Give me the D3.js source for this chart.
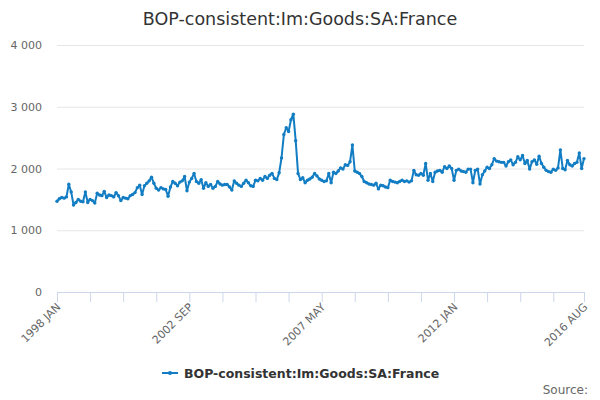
<!DOCTYPE html>
<html>
<head>
<meta charset="utf-8">
<script src="https://cdn.jsdelivr.net/npm/d3@7"></script>
<style>
  body { margin: 0; background: #fff; }
  svg { font-family: "DejaVu Sans", Verdana, sans-serif; }
</style>
</head>
<body>
<div id="chart"></div>
<script>
// monthly values, 1998 JAN .. 2016 AUG
var v1998 = [1470, 1510, 1530, 1520, 1540, 1745, 1620, 1410, 1450, 1500, 1470, 1460];
var v1999 = [1620, 1450, 1500, 1480, 1440, 1600, 1570, 1560, 1630, 1530, 1570, 1560];
var v2000 = [1540, 1610, 1560, 1480, 1530, 1520, 1510, 1560, 1580, 1610, 1690, 1730];
var v2001 = [1580, 1720, 1760, 1800, 1860, 1760, 1680, 1650, 1690, 1670, 1660, 1550];
var v2002 = [1700, 1790, 1760, 1720, 1780, 1800, 1870, 1640, 1780, 1840, 1920, 1790];
var v2003 = [1760, 1820, 1680, 1770, 1710, 1740, 1680, 1710, 1790, 1750, 1730, 1740];
var v2004 = [1740, 1700, 1650, 1800, 1760, 1730, 1710, 1760, 1810, 1770, 1720, 1710];
var v2005 = [1810, 1800, 1840, 1810, 1870, 1840, 1890, 1920, 1840, 1820, 1930, 2170];
var v2006 = [2550, 2660, 2600, 2790, 2880, 2450, 1920, 1820, 1850, 1770, 1810, 1830];
var v2007 = [1860, 1920, 1880, 1830, 1810, 1790, 1800, 1920, 1770, 1940, 1920, 1960];
var v2008 = [2010, 1990, 2060, 2050, 2110, 2380, 1960, 1940, 1920, 1870, 1790, 1770];
var v2009 = [1750, 1740, 1730, 1760, 1670, 1730, 1720, 1700, 1690, 1810, 1790, 1780];
var v2010 = [1770, 1790, 1810, 1790, 1800, 1780, 1800, 1970, 1900, 1890, 1920, 1890];
var v2011 = [2080, 1810, 1920, 1790, 1940, 1960, 1970, 1940, 2030, 2000, 2040, 2000];
var v2012 = [1810, 1970, 1990, 1960, 1950, 1940, 1990, 1990, 1770, 1970, 1990, 1750];
var v2013 = [1900, 1960, 2020, 2000, 2060, 2160, 2120, 2110, 2100, 2100, 2040, 2110];
var v2014 = [2140, 2060, 2100, 2190, 2140, 2210, 2080, 2130, 1990, 2110, 2140, 2070];
var v2015 = [2200, 2080, 2020, 1970, 1950, 1940, 1990, 1970, 2010, 2300, 2000, 1980];
var v2016 = [2130, 2060, 2040, 2080, 2100, 2250, 2000, 2160];

var months = ["JAN", "FEB", "MAR", "APR", "MAY", "JUN", "JUL", "AUG", "SEP", "OCT", "NOV", "DEC"];
var yTicks = [0, 1000, 2000, 3000, 4000];
var seriesName = "BOP-consistent:Im:Goods:SA:France";

var values = [].concat(v1998, v1999, v2000, v2001, v2002, v2003, v2004, v2005, v2006,
    v2007, v2008, v2009, v2010, v2011, v2012, v2013, v2014, v2015, v2016);
var data = values.map(function(v, i) {
    return { label: (1998 + Math.floor(i / 12)) + " " + months[i % 12], value: v };
});

var width = 600, height = 400;
var margin = { top: 45, right: 16, bottom: 108, left: 57 };
var color = "#127dc3";

var svg = d3.select("#chart").append("svg").attr("width", width).attr("height", height);

var xScale = d3.scaleLinear()
    .domain([0, data.length - 1])
    .range([margin.left, width - margin.right]);

var yScale = d3.scaleLinear()
    .domain([0, 4000])
    .range([height - margin.bottom, margin.top]);

// title
svg.append("text")
    .attr("x", width / 2)
    .attr("y", 25)
    .attr("text-anchor", "middle")
    .attr("font-size", "17.5px")
    .attr("fill", "#333333")
    .text(seriesName);

// y grid + labels
var axisy = d3.axisLeft(yScale)
    .tickValues(yTicks)
    .tickSize(-(width - margin.left - margin.right))
    .tickPadding(15)
    .tickFormat(function(d) { return d3.format(",")(d).replace(/,/g, " "); });

var gy = svg.append("g")
    .attr("transform", "translate(" + margin.left + ",0)")
    .call(axisy);
gy.select(".domain").remove();
gy.selectAll(".tick line").attr("stroke", "#e6e6e6");
gy.selectAll(".tick text").attr("fill", "#666666").attr("font-size", "11px").attr("font-family", "DejaVu Sans");
gy.selectAll(".tick").filter(function(d) { return d === 0; }).select("line").remove();

// x axis, tick every 14 months plus the last one
var tickIdx = d3.range(0, data.length - 1, 14).concat([data.length - 1]);
var labelIdx = [0, 56, 112, 168, data.length - 1];

var axisx = d3.axisBottom(xScale)
    .tickValues(tickIdx)
    .tickSize(10)
    .tickFormat(function(i) { return labelIdx.indexOf(i) >= 0 ? data[i].label : ""; });

var gx = svg.append("g")
    .attr("transform", "translate(0," + (height - margin.bottom) + ")")
    .call(axisx);
gx.select(".domain").attr("stroke", "#ccd6eb");
gx.selectAll(".tick line").attr("stroke", "#ccd6eb");
gx.selectAll(".tick text")
    .attr("fill", "#666666")
    .attr("font-size", "11px")
    .attr("font-family", "DejaVu Sans")
    .attr("text-anchor", "end")
    .attr("x", 0)
    .attr("y", 0)
    .attr("dy", "0.35em")
    .attr("transform", "translate(1,13) rotate(-45)");

// line
var line = d3.line()
    .x(function(d, i) { return xScale(i); })
    .y(function(d) { return yScale(d.value); });

svg.append("path")
    .attr("d", line(data))
    .attr("fill", "none")
    .attr("stroke", color)
    .attr("stroke-width", 2)
    .attr("stroke-linejoin", "round");

svg.append("g")
    .selectAll("circle")
    .data(data)
    .enter()
    .append("circle")
    .attr("cx", function(d, i) { return xScale(i); })
    .attr("cy", function(d) { return yScale(d.value); })
    .attr("r", 1.7)
    .attr("fill", color);

// legend
var lg = svg.append("g").attr("transform", "translate(162,373)");
lg.append("line")
    .attr("x1", 0).attr("x2", 16)
    .attr("y1", 0).attr("y2", 0)
    .attr("stroke", color).attr("stroke-width", 2);
lg.append("circle").attr("cx", 8).attr("cy", 0).attr("r", 2).attr("fill", color);
lg.append("text")
    .attr("x", 22)
    .attr("y", 4.5)
    .attr("font-size", "12.5px")
    .attr("font-weight", "bold")
    .attr("fill", "#333333")
    .text(seriesName);

svg.append("text")
    .attr("x", 588)
    .attr("y", 394)
    .attr("text-anchor", "end")
    .attr("font-size", "12px")
    .attr("fill", "#666666")
    .text("Source:");
</script>
</body>
</html>
